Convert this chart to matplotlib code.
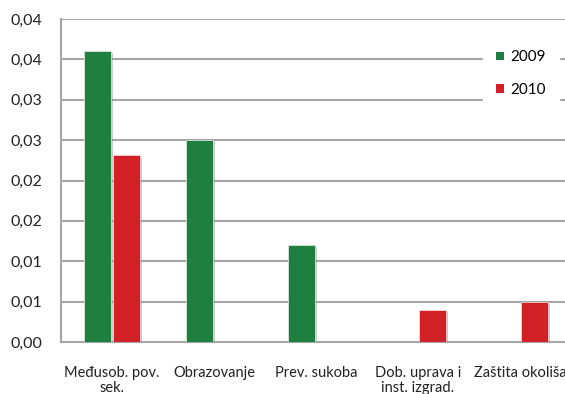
import matplotlib
matplotlib.use("Agg")
import matplotlib.pyplot as plt
import matplotlib.patheffects as pe
from matplotlib.patches import Patch
import numpy as np

plt.rcParams['font.family'] = ['Lato', 'DejaVu Sans']

categories = ["Međusob. pov.\nsek.", "Obrazovanje", "Prev. sukoba",
              "Dob. uprava i\ninst. izgrad.", "Zaštita okoliša"]
values_2009 = [0.036, 0.025, 0.012, 0.0, 0.0]
values_2010 = [0.0231, 0.0, 0.0, 0.004, 0.005]
series_names = ["2009", "2010"]
y_ticks = [0.0, 0.005, 0.01, 0.015, 0.02, 0.025, 0.03, 0.035, 0.04]
y_tick_labels = ["0,00", "0,01", "0,01", "0,02", "0,02", "0,03", "0,03", "0,04", "0,04"]

green = "#1e7f3f"
red = "#d12127"
grid_col = "#a6a6a6"

fig = plt.figure(figsize=(5.65, 3.94), dpi=100)
ax = fig.add_axes([61 / 565, 52 / 394, 510 / 565, 323 / 394])

x = np.arange(len(categories))
w = 0.265
off = 0.14
shadow = [pe.SimplePatchShadow(offset=(1.5, -1.5), shadow_rgbFace="#808080", alpha=0.4), pe.Normal()]
b1 = ax.bar(x - off, values_2009, width=w, color=green, edgecolor="#e8f0e8", linewidth=0.5, zorder=3)
b2 = ax.bar(x + off, values_2010, width=w, color=red, edgecolor="#f5e0e0", linewidth=0.5, zorder=3)
for bars in (b1, b2):
    for r in bars:
        if r.get_height() > 0:
            r.set_path_effects(shadow)
        else:
            r.set_visible(False)

ax.set_xlim(-0.5, 4.5)
ax.set_ylim(0, 0.04)
ax.set_yticks(y_ticks)
ax.set_yticklabels(y_tick_labels, fontsize=11.5, color="#222222")
ax.set_xticks(x)
ax.set_xticklabels(categories, fontsize=10.5, color="#222222", linespacing=1.1)
ax.tick_params(axis='both', length=0)
ax.tick_params(axis='y', pad=13.5)
ax.tick_params(axis='x', pad=17)
ax.yaxis.grid(True, color=grid_col, linewidth=1.5, zorder=0)
ax.set_axisbelow(True)
for s in ("top", "right"):
    ax.spines[s].set_visible(False)
for s in ("left", "bottom"):
    ax.spines[s].set_color(grid_col)
    ax.spines[s].set_linewidth(1.5)

handles = [Patch(facecolor=green), Patch(facecolor=red)]
leg = ax.legend(handles, series_names, loc="upper left", bbox_to_anchor=(414 / 510, 1 - 10 / 323),
                frameon=True, facecolor="white", edgecolor="white", framealpha=1.0,
                fontsize=11, handlelength=0.5, handleheight=0.5, handletextpad=0.4,
                labelspacing=1.2, borderpad=0.9, fancybox=False)
leg.set_zorder(5)

fig.savefig("out.png", dpi=100)
